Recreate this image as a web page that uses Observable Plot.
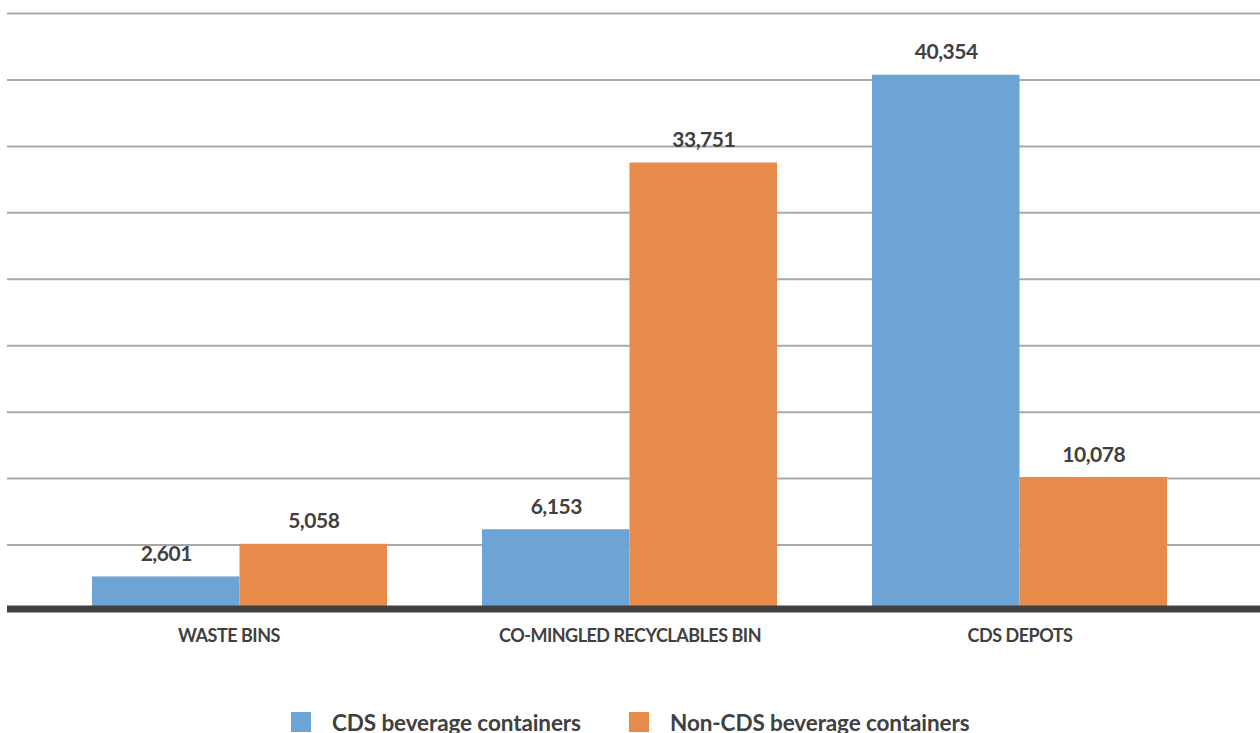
<!DOCTYPE html>
<html>
<head>
<meta charset="utf-8">
<script src="https://cdn.jsdelivr.net/npm/d3@7"></script>
<script src="https://cdn.jsdelivr.net/npm/@observablehq/plot@0.6"></script>
<style>
  body { margin: 0; background: #fff; font-family: Lato, "Open Sans", sans-serif; }
  #chart svg text { letter-spacing: -0.5px; }
  .legend { position: relative; width: 1260px; height: 33px; font-weight: 700; font-size: 22.5px; color: #404040; letter-spacing: -0.1px; }
  .legend .item { position: absolute; top: 12px; display: flex; align-items: center; height: 20px; }
  .legend .sw { width: 20px; height: 20px; margin-right: 21px; flex: none; }
</style>
</head>
<body>
<div id="chart"></div>
<div class="legend" id="legend"></div>
<script>
// Collection point categories and container counts per series
const categories = ["WASTE BINS", "CO-MINGLED RECYCLABLES BIN", "CDS DEPOTS"];
const seriesNames = ["CDS beverage containers", "Non-CDS beverage containers"];
const cdsValues = [2601, 6153, 40354];
const nonCdsValues = [5058, 33751, 10078];
const seriesColors = ["#6CA4D5", "#E88A4A"];
const gridValues = [5000, 10000, 15000, 20000, 25000, 30000, 35000, 40000, 45000];

const rows = categories.flatMap((c, i) => [
  {category: c, series: seriesNames[0], value: cdsValues[i]},
  {category: c, series: seriesNames[1], value: nonCdsValues[i]}
]);
const cdsRows = rows.filter(d => d.series === seriesNames[0]);
const nonCdsRows = rows.filter(d => d.series === seriesNames[1]);

const fmt = d3.format(",");
const ink = "#404040";
const half = 147.5;        // each bar takes half of the category band
const labelShift = half / 2;
const valueLabel = {x: "category", y: "value", text: d => fmt(d.value), dy: -16, lineAnchor: "bottom", fontSize: 21, fill: ink};
const categoryLabel = {x: d => d, text: d => d, frameAnchor: "bottom", lineAnchor: "top", dy: 18, fontSize: 18, fill: ink};

const chart = Plot.plot({
  width: 1260,
  height: 700,
  marginTop: 10,
  marginLeft: 7,
  marginRight: 0,
  marginBottom: 89,
  style: {fontFamily: "Lato, 'Open Sans', sans-serif", fontWeight: 700, background: "white"},
  x: {type: "band", domain: categories, range: [44.5, 1214.5], paddingInner: 0.2436, paddingOuter: 0.1218, axis: null},
  y: {domain: [0, 45000], range: [611, 13], axis: null},
  marks: [
    Plot.ruleY(gridValues, {stroke: "#a9a9a9", strokeWidth: 2}),
    Plot.barY(cdsRows, {x: "category", y: "value", fill: seriesColors[0], insetLeft: 0, insetRight: half}),
    Plot.barY(nonCdsRows, {x: "category", y: "value", fill: seriesColors[1], insetLeft: half, insetRight: 0}),
    Plot.ruleY([0], {stroke: ink, strokeWidth: 7, dy: -2.5}),
    Plot.text(cdsRows, {...valueLabel, dx: -labelShift}),
    Plot.text(nonCdsRows, {...valueLabel, dx: labelShift}),
    // category names under the baseline; the first one sits a little left of its band centre
    Plot.text(categories.slice(0, 1), {...categoryLabel, dx: -11}),
    Plot.text(categories.slice(1), categoryLabel)
  ]
});
document.getElementById("chart").appendChild(chart);

// Legend below the plot
const legend = document.getElementById("legend");
const legendLeft = [291, 629];
seriesNames.forEach((name, i) => {
  const item = document.createElement("div");
  item.className = "item";
  item.style.left = legendLeft[i] + "px";
  const sw = document.createElement("div");
  sw.className = "sw";
  sw.style.background = seriesColors[i];
  const label = document.createElement("span");
  label.textContent = name;
  item.appendChild(sw);
  item.appendChild(label);
  legend.appendChild(item);
});
</script>
</body>
</html>
